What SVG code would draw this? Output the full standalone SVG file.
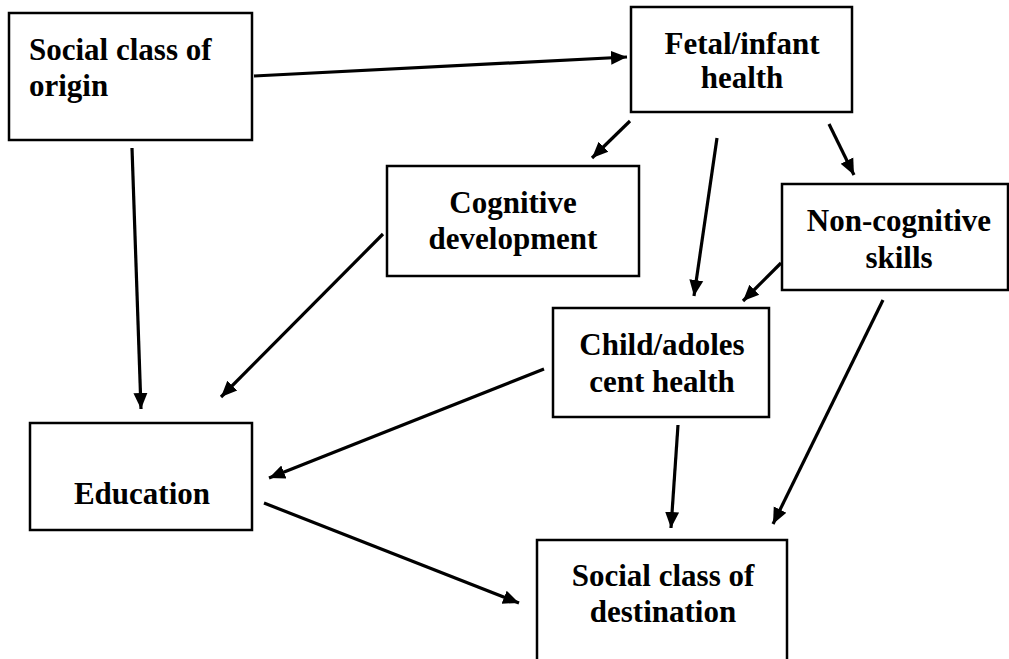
<svg xmlns="http://www.w3.org/2000/svg" width="1009" height="659" viewBox="0 0 1009 659">
<style>
.box{fill:#fff;stroke:#000;stroke-width:2.5}
.t{font-family:"Liberation Serif","Times New Roman",serif;font-weight:bold;font-size:31px;fill:#000}
.c{text-anchor:middle}
.e{stroke:#000;stroke-width:3.2;fill:none;marker-end:url(#ah)}
</style>
<defs>
<marker id="ah" markerUnits="userSpaceOnUse" markerWidth="18" markerHeight="16" refX="16" refY="8" orient="auto">
<path d="M0,1 L16,8 L0,15 Z" fill="#000"/>
</marker>
</defs>
<rect width="1009" height="659" fill="#fff"/>
<g id="connectors">
<line class="e" x1="254" y1="76" x2="627" y2="57"/>
<line class="e" x1="132" y1="148" x2="141" y2="409"/>
<line class="e" x1="383" y1="234" x2="221" y2="397"/>
<line class="e" x1="544" y1="369" x2="269" y2="478"/>
<line class="e" x1="264" y1="503" x2="519" y2="603"/>
<line class="e" x1="630" y1="121" x2="592" y2="158"/>
<line class="e" x1="717" y1="138" x2="694" y2="296"/>
<line class="e" x1="829" y1="124" x2="854" y2="175"/>
<line class="e" x1="781" y1="263" x2="743" y2="301"/>
<line class="e" x1="678" y1="425" x2="671" y2="528"/>
<line class="e" x1="883" y1="300" x2="773" y2="524"/>
</g>
<g id="origin">
<rect class="box" x="9" y="13" width="243" height="127"/>
<text class="t" x="29" y="60">Social class of</text>
<text class="t" x="29" y="96">origin</text>
</g>
<g id="fetal">
<rect class="box" x="631" y="7" width="221" height="105"/>
<text class="t c" x="742" y="54">Fetal/infant</text>
<text class="t c" x="742" y="88">health</text>
</g>
<g id="cognitive">
<rect class="box" x="387" y="166" width="252" height="110"/>
<text class="t c" x="513" y="213">Cognitive</text>
<text class="t c" x="513" y="249">development</text>
</g>
<g id="noncognitive">
<rect class="box" x="782" y="184" width="226" height="106"/>
<text class="t c" x="899" y="231">Non-cognitive</text>
<text class="t c" x="899" y="268">skills</text>
</g>
<g id="child">
<rect class="box" x="553" y="308" width="216" height="109"/>
<text class="t c" x="662" y="355">Child/adoles</text>
<text class="t c" x="662" y="392">cent health</text>
</g>
<g id="education">
<rect class="box" x="30" y="423" width="222" height="107"/>
<text class="t c" x="142" y="504">Education</text>
</g>
<g id="destination">
<rect class="box" x="537" y="540" width="250" height="140"/>
<text class="t c" x="663" y="586">Social class of</text>
<text class="t c" x="663" y="622">destination</text>
</g>
</svg>
